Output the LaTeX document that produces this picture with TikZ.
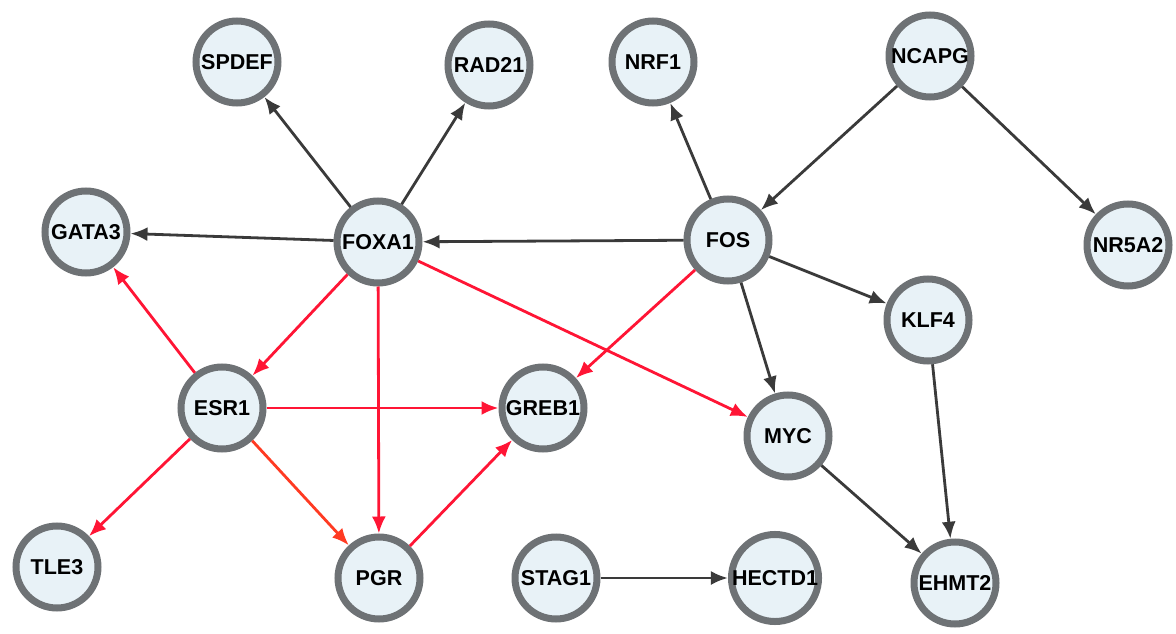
\documentclass[tikz,border=0pt]{standalone}
\usepackage{fontspec}
\setmainfont{Liberation Sans}
\usetikzlibrary{arrows.meta}
\definecolor{nodefill}{HTML}{E8F2F7}
\definecolor{nodeborder}{HTML}{6E7275}
\definecolor{edgedark}{HTML}{3A3A3A}
\definecolor{edgered}{HTML}{FF1535}
\definecolor{edgeorange}{HTML}{FF3A22}
\tikzset{
  gene/.style={circle, draw=nodeborder, fill=nodefill, line width=7pt, minimum size=82pt, inner sep=0pt, font=\bfseries\fontsize{21.5}{24}\selectfont},
  darkedge/.style={draw=edgedark, line width=2.8pt, -{Latex[length=17pt,width=14pt]}},
  rededge/.style={draw=edgered, line width=2.8pt, -{Latex[length=17pt,width=14pt]}},
  orangeedge/.style={draw=edgeorange, line width=2.8pt, -{Latex[length=17pt,width=14pt]}},
}
\begin{document}
\begin{tikzpicture}[x=1pt,y=-1pt]
\useasboundingbox (0,0) rectangle (1176,634);
\node[gene] (SPDEF) at (237,62) {SPDEF};
\node[gene] (RAD21) at (489,65) {RAD21};
\node[gene] (NRF1) at (653,62) {NRF1};
\node[gene] (NCAPG) at (930,56) {NCAPG};
\node[gene] (GATA3) at (86,232) {GATA3};
\node[gene] (FOXA1) at (378,242) {FOXA1};
\node[gene] (FOS) at (728,240) {FOS};
\node[gene] (NR5A2) at (1128,245) {NR5A2};
\node[gene] (KLF4) at (928,320) {KLF4};
\node[gene] (ESR1) at (222,408) {ESR1};
\node[gene] (GREB1) at (543,408) {GREB1};
\node[gene] (MYC) at (788,436) {MYC};
\node[gene] (TLE3) at (57,567) {TLE3};
\node[gene] (PGR) at (379,578) {PGR};
\node[gene] (STAG1) at (556,578) {STAG1};
\node[gene] (HECTD1) at (775,578) {HECTD1};
\node[gene] (EHMT2) at (955,583) {EHMT2};

\draw[darkedge] (FOXA1) -- (SPDEF);
\draw[darkedge] (FOXA1) -- (RAD21);
\draw[darkedge] (FOXA1) -- (GATA3);
\draw[darkedge] (FOS) -- (FOXA1);
\draw[darkedge] (FOS) -- (NRF1);
\draw[darkedge] (NCAPG) -- (FOS);
\draw[darkedge] (NCAPG) -- (NR5A2);
\draw[darkedge] (FOS) -- (KLF4);
\draw[darkedge] (FOS) -- (MYC);
\draw[darkedge] (KLF4) -- (EHMT2);
\draw[darkedge] (MYC) -- (EHMT2);
\draw[darkedge] (STAG1) -- (HECTD1);
\draw[rededge] (FOS) -- (GREB1);
\draw[rededge] (FOXA1) -- (ESR1);
\draw[rededge] (FOXA1) -- (PGR);
\draw[rededge] (FOXA1) -- (MYC);
\draw[rededge] (ESR1) -- (GATA3);
\draw[rededge] (ESR1) -- (GREB1);
\draw[rededge] (ESR1) -- (TLE3);
\draw[orangeedge] (ESR1) -- (PGR);
\draw[rededge] (PGR) -- (GREB1);
\end{tikzpicture}
\end{document}
